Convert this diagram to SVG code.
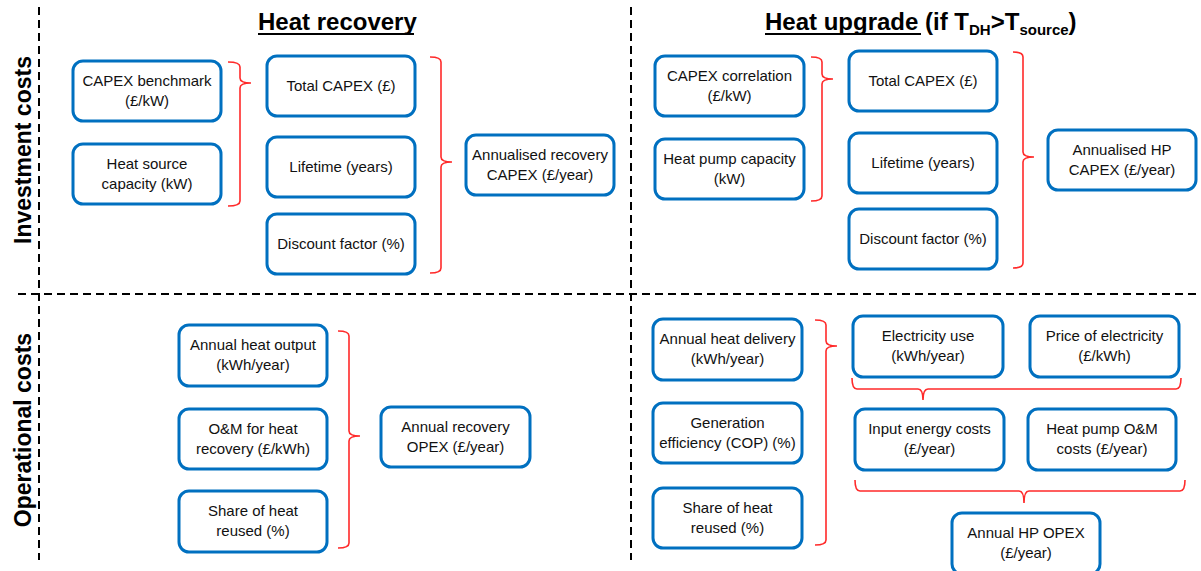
<svg xmlns="http://www.w3.org/2000/svg" width="1201" height="571" viewBox="0 0 1201 571">
<style>
.box{fill:#fff;stroke:#0070C0;stroke-width:3}
.t{font-family:"Liberation Sans",Arial,sans-serif;font-size:15px;fill:#111;text-anchor:middle}
.h{font-family:"Liberation Sans",Arial,sans-serif;font-size:24px;font-weight:bold;fill:#000}
.side{font-family:"Liberation Sans",Arial,sans-serif;font-size:23px;font-weight:bold;fill:#000;text-anchor:middle}
.dash{stroke:#000;stroke-width:2;stroke-dasharray:8 5;fill:none}
.br{fill:none;stroke:#FF2A2A;stroke-width:1.6}
.ul{stroke:#000;stroke-width:2}
</style>
<rect width="1201" height="571" fill="#fff"/>
<g id="grid">
<line class="dash" x1="39" y1="7" x2="39" y2="560"/>
<line class="dash" x1="631" y1="7" x2="631" y2="560"/>
<line class="dash" x1="18" y1="294" x2="1201" y2="294"/>
</g>
<g id="titles">
<text class="h" x="258" y="30">Heat recovery</text>
<line class="ul" x1="258" y1="34" x2="414" y2="34"/>
<text class="h" x="765" y="30">Heat upgrade (if T<tspan font-size="15" dy="5">DH</tspan><tspan dy="-5">&gt;T</tspan><tspan font-size="15" dy="5">source</tspan><tspan dy="-5">)</tspan></text>
<line class="ul" x1="765" y1="34" x2="921" y2="34"/>
<text class="side" transform="translate(31,150) rotate(-90)">Investment costs</text>
<text class="side" transform="translate(31,430) rotate(-90)">Operational costs</text>
</g>
<g id="connectors">
<path class="br" d="M228,62 Q240,62 240,67 L240,78 Q240,83 251,83 Q240,83 240,88 L240,201 Q240,206 228,206"/>
<path class="br" d="M430,57 Q441,57 441,62 L441,157 Q441,162 452,162 Q441,162 441,167 L441,268 Q441,273 430,273"/>
<path class="br" d="M338,331 Q349,331 349,336 L349,431 Q349,436 360,436 Q349,436 349,441 L349,543 Q349,548 338,548"/>
<path class="br" d="M811,57 Q822,57 822,62 L822,74 Q822,79 833,79 Q822,79 822,84 L822,196 Q822,201 811,201"/>
<path class="br" d="M1013,52 Q1023,52 1023,57 L1023,152 Q1023,157 1034,157 Q1023,157 1023,162 L1023,263 Q1023,268 1013,268"/>
<path class="br" d="M815,320 Q826,320 826,325 L826,341 Q826,346 837,346 Q826,346 826,351 L826,540 Q826,545 815,545"/>
<path class="br" d="M852,378 Q852,389 857,389 L918,389 Q923,389 923,400 Q923,389 928,389 L1176,389 Q1181,389 1181,378"/>
<path class="br" d="M855,480 Q855,491 860,491 L1019,491 Q1024,491 1024,503 Q1024,491 1029,491 L1180,491 Q1185,491 1185,480"/>
</g>
<g id="n_capex_bench"><rect class="box" x="73" y="61" width="148" height="60" rx="10"/><text class="t" x="147" y="86">CAPEX benchmark</text><text class="t" x="147" y="106">(£/kW)</text></g>
<g id="n_heat_source"><rect class="box" x="73" y="144" width="148" height="60" rx="10"/><text class="t" x="147" y="169">Heat source</text><text class="t" x="147" y="189">capacity (kW)</text></g>
<g id="n_hr_total"><rect class="box" x="267" y="56" width="148" height="60" rx="10"/><text class="t" x="341" y="91">Total CAPEX (£)</text></g>
<g id="n_hr_life"><rect class="box" x="267" y="137" width="148" height="60" rx="10"/><text class="t" x="341" y="172">Lifetime (years)</text></g>
<g id="n_hr_disc"><rect class="box" x="267" y="214" width="148" height="60" rx="10"/><text class="t" x="341" y="249">Discount factor (%)</text></g>
<g id="n_hr_ann"><rect class="box" x="466" y="135" width="148" height="60" rx="10"/><text class="t" x="540" y="160">Annualised recovery</text><text class="t" x="540" y="180">CAPEX (£/year)</text></g>
<g id="n_capex_corr"><rect class="box" x="655" y="56" width="149" height="60" rx="10"/><text class="t" x="729.5" y="81">CAPEX correlation</text><text class="t" x="729.5" y="101">(£/kW)</text></g>
<g id="n_hp_cap"><rect class="box" x="655" y="139" width="149" height="60" rx="10"/><text class="t" x="729.5" y="164">Heat pump capacity</text><text class="t" x="729.5" y="184">(kW)</text></g>
<g id="n_hu_total"><rect class="box" x="849" y="51" width="148" height="60" rx="10"/><text class="t" x="923" y="86">Total CAPEX (£)</text></g>
<g id="n_hu_life"><rect class="box" x="849" y="133" width="148" height="60" rx="10"/><text class="t" x="923" y="168">Lifetime (years)</text></g>
<g id="n_hu_disc"><rect class="box" x="849" y="209" width="148" height="60" rx="10"/><text class="t" x="923" y="244">Discount factor (%)</text></g>
<g id="n_hu_ann"><rect class="box" x="1048" y="130" width="148" height="60" rx="10"/><text class="t" x="1122" y="155">Annualised HP</text><text class="t" x="1122" y="175">CAPEX (£/year)</text></g>
<g id="n_heat_out"><rect class="box" x="179" y="325" width="148" height="61" rx="10"/><text class="t" x="253" y="350">Annual heat output</text><text class="t" x="253" y="370">(kWh/year)</text></g>
<g id="n_om_hr"><rect class="box" x="179" y="409" width="148" height="60" rx="10"/><text class="t" x="253" y="434">O&amp;M for heat</text><text class="t" x="253" y="454">recovery (£/kWh)</text></g>
<g id="n_share_hr"><rect class="box" x="179" y="491" width="148" height="61" rx="10"/><text class="t" x="253" y="516">Share of heat</text><text class="t" x="253" y="536">reused (%)</text></g>
<g id="n_hr_opex"><rect class="box" x="381" y="407" width="149" height="60" rx="10"/><text class="t" x="455.5" y="432">Annual recovery</text><text class="t" x="455.5" y="452">OPEX (£/year)</text></g>
<g id="n_heat_del"><rect class="box" x="653" y="319" width="149" height="61" rx="10"/><text class="t" x="727.5" y="344">Annual heat delivery</text><text class="t" x="727.5" y="364">(kWh/year)</text></g>
<g id="n_cop"><rect class="box" x="653" y="403" width="149" height="60" rx="10"/><text class="t" x="727.5" y="428">Generation</text><text class="t" x="727.5" y="448">efficiency (COP) (%)</text></g>
<g id="n_share_hu"><rect class="box" x="653" y="488" width="149" height="60" rx="10"/><text class="t" x="727.5" y="513">Share of heat</text><text class="t" x="727.5" y="533">reused (%)</text></g>
<g id="n_elec"><rect class="box" x="853" y="316" width="150" height="61" rx="10"/><text class="t" x="928" y="341">Electricity use</text><text class="t" x="928" y="361">(kWh/year)</text></g>
<g id="n_price"><rect class="box" x="1030" y="316" width="149" height="61" rx="10"/><text class="t" x="1104.5" y="341">Price of electricity</text><text class="t" x="1104.5" y="361">(£/kWh)</text></g>
<g id="n_input"><rect class="box" x="855" y="409" width="149" height="61" rx="10"/><text class="t" x="929.5" y="434">Input energy costs</text><text class="t" x="929.5" y="454">(£/year)</text></g>
<g id="n_hp_om"><rect class="box" x="1028" y="409" width="148" height="61" rx="10"/><text class="t" x="1102" y="434">Heat pump O&amp;M</text><text class="t" x="1102" y="454">costs (£/year)</text></g>
<g id="n_hp_opex"><rect class="box" x="952" y="513" width="148" height="61" rx="10"/><text class="t" x="1026" y="538">Annual HP OPEX</text><text class="t" x="1026" y="558">(£/year)</text></g>
</svg>
